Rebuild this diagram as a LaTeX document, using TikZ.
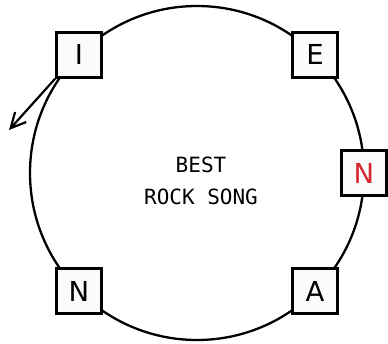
\documentclass[tikz,border=0pt]{standalone}
\usepackage{fontspec}
\usetikzlibrary{arrows.meta}
\newfontfamily\boxfont{DejaVu Sans}
\newfontfamily\monofont{DejaVu Sans Mono}
\definecolor{letterred}{RGB}{214,39,46}
\definecolor{boxfill}{RGB}{251,251,251}
\tikzset{
  ring/.style={circle, draw, line width=2.3pt, minimum size=334pt, inner sep=0pt, outer sep=0pt},
  letterbox/.style={draw, line width=2.6pt, fill=boxfill, minimum size=45pt, inner sep=0pt,
    font=\boxfont\fontsize{27.5}{27.5}\selectfont},
  title/.style={align=center, font=\monofont\fontsize{21}{32.5}\selectfont},
  pointer/.style={line width=2.2pt, -{Straight Barb[length=15pt,width=15pt,line width=2.2pt]}}
}
\begin{document}
\begin{tikzpicture}[x=1pt,y=-1pt]
\useasboundingbox (0,0) rectangle (388,343);
\node[ring] (ring) at (197,173) {};
\node[title] (t) at (201,181) {BEST\\ROCK SONG};
\node[letterbox] (I) at (ring.135) {I};
\node[letterbox] (E) at (ring.45) {E};
\node[letterbox, text=letterred] (N1) at (ring.0) {N};
\node[letterbox] (A) at (ring.-45) {A};
\node[letterbox] (N2) at (ring.-135) {N};
\coordinate (tip) at (9,130);
\draw[pointer] (I.south west) -- (tip);
\end{tikzpicture}
\end{document}
